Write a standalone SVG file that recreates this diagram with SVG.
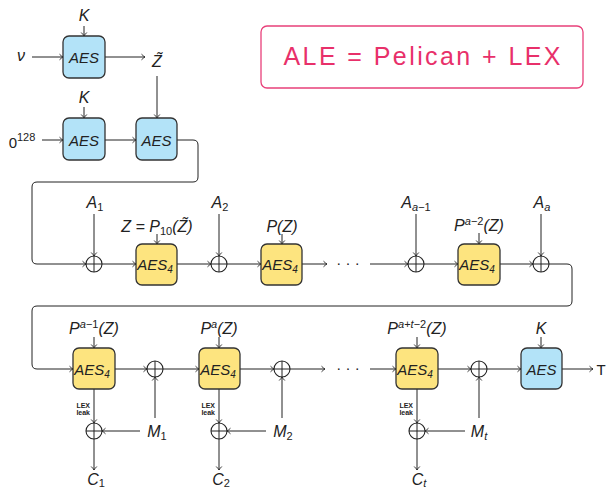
<svg xmlns="http://www.w3.org/2000/svg" width="607" height="489" viewBox="0 0 607 489">
<defs>
<marker id="ar" markerUnits="userSpaceOnUse" markerWidth="10" markerHeight="10" viewBox="-6 -5 8 10" refX="0" refY="0" orient="auto">
<path d="M-3.5,-2.8 Q-1.2,-0.6 0,0 Q-1.2,0.6 -3.5,2.8" fill="none" stroke="#222" stroke-width="0.9"/>
</marker>
</defs>
<style>
.blue{fill:#b3e3f8;stroke:#333;stroke-width:1.3}
.yel{fill:#fde47f;stroke:#333;stroke-width:1.3}
.m{font-family:"Liberation Sans",Arial,sans-serif;font-style:italic;font-size:15px;fill:#222;text-anchor:middle}
.l{font-family:"Liberation Sans",Arial,sans-serif;font-style:italic;font-size:16px;fill:#222;text-anchor:middle}
.r{font-family:"Liberation Sans",Arial,sans-serif;font-size:15px;fill:#222;text-anchor:middle}
.s{font-size:11px}
.leak{font-family:"Liberation Sans",Arial,sans-serif;font-weight:bold;font-size:7px;fill:#222;text-anchor:end}
.c{fill:none;stroke:#222;stroke-width:1}
.a{fill:none;stroke:#222;stroke-width:1;marker-end:url(#ar)}
.x{fill:#fff;stroke:#222;stroke-width:1.1}
.dots{font-family:"Liberation Sans",Arial,sans-serif;font-size:15px;fill:#222;text-anchor:middle}
</style>
<rect width="607" height="489" fill="#fff"/>

<g id="title">
<rect x="261" y="26" width="322" height="62" rx="6" fill="#fff" stroke="#e8407a" stroke-width="1.3"/>
<text x="422" y="65" font-family="Liberation Sans,Arial,sans-serif" font-size="25" fill="#e8306a" text-anchor="middle" textLength="277" lengthAdjust="spacing">ALE = Pelican + LEX</text>
</g>

<g id="connectors">
<line class="a" x1="84" y1="26" x2="84" y2="36"/>
<line class="a" x1="32" y1="57" x2="63" y2="57"/>
<line class="a" x1="105" y1="57" x2="145" y2="57"/>
<line class="a" x1="157" y1="76" x2="157" y2="118"/>
<line class="a" x1="84" y1="107" x2="84" y2="118"/>
<line class="a" x1="42" y1="140" x2="63" y2="140"/>
<line class="a" x1="105" y1="140" x2="136" y2="140"/>
<path class="a" d="M177,140 H193 Q198,140 198,145 V177 Q198,182 193,182 H37 Q32,182 32,187 V259 Q32,264 37,264 H86"/>
<line class="a" x1="94" y1="214" x2="94" y2="256"/>
<line class="a" x1="102" y1="264" x2="136" y2="264"/>
<line class="a" x1="157" y1="234" x2="157" y2="244"/>
<line class="a" x1="177" y1="264" x2="211" y2="264"/>
<line class="a" x1="219" y1="214" x2="219" y2="256"/>
<line class="a" x1="227" y1="264" x2="261" y2="264"/>
<line class="a" x1="282" y1="234" x2="282" y2="244"/>
<line class="a" x1="302" y1="264" x2="327" y2="264"/>
<line class="a" x1="370" y1="264" x2="408" y2="264"/>
<line class="a" x1="416" y1="214" x2="416" y2="256"/>
<line class="a" x1="424" y1="264" x2="458" y2="264"/>
<line class="a" x1="479" y1="233" x2="479" y2="244"/>
<line class="a" x1="500" y1="264" x2="533" y2="264"/>
<line class="a" x1="541" y1="214" x2="541" y2="256"/>
<path class="a" d="M549,264 H567 Q572,264 572,269 V301 Q572,306 567,306 H37 Q32,306 32,311 V364 Q32,369 37,369 H73"/>
<line class="a" x1="94" y1="337" x2="94" y2="348"/>
<line class="a" x1="115" y1="369" x2="147" y2="369"/>
<line class="a" x1="155" y1="418" x2="155" y2="377"/>
<line class="a" x1="163" y1="369" x2="199" y2="369"/>
<line class="a" x1="219" y1="337" x2="219" y2="348"/>
<line class="a" x1="240" y1="369" x2="274" y2="369"/>
<line class="a" x1="282" y1="418" x2="282" y2="377"/>
<line class="a" x1="290" y1="369" x2="325" y2="369"/>
<line class="a" x1="370" y1="369" x2="396" y2="369"/>
<line class="a" x1="417" y1="337" x2="417" y2="348"/>
<line class="a" x1="438" y1="369" x2="471" y2="369"/>
<line class="a" x1="479" y1="418" x2="479" y2="377"/>
<line class="a" x1="487" y1="369" x2="521" y2="369"/>
<line class="a" x1="541" y1="337" x2="541" y2="348"/>
<line class="a" x1="562" y1="369" x2="593" y2="369"/>
<line class="a" x1="94" y1="389" x2="94" y2="423"/>
<line class="a" x1="140" y1="431" x2="102" y2="431"/>
<line class="a" x1="94" y1="439" x2="94" y2="470"/>
<line class="a" x1="219" y1="389" x2="219" y2="423"/>
<line class="a" x1="266" y1="431" x2="227" y2="431"/>
<line class="a" x1="219" y1="439" x2="219" y2="470"/>
<line class="a" x1="417" y1="389" x2="417" y2="423"/>
<line class="a" x1="465" y1="431" x2="425" y2="431"/>
<line class="a" x1="417" y1="439" x2="417" y2="470"/>
</g>

<g id="aes1"><rect class="blue" x="63" y="36" width="42" height="42" rx="6"/><text class="m" x="84" y="63">AES</text></g>
<g id="aes2"><rect class="blue" x="63" y="118" width="42" height="42" rx="6"/><text class="m" x="84" y="146">AES</text></g>
<g id="aes3"><rect class="blue" x="136" y="118" width="41" height="42" rx="6"/><text class="m" x="156.5" y="146">AES</text></g>
<g id="aesT"><rect class="blue" x="521" y="348" width="41" height="41" rx="6"/><text class="m" x="541.5" y="375">AES</text></g>

<g id="r2b1"><rect class="yel" x="136" y="244" width="41" height="41" rx="6"/><text class="m" x="155" y="270">AES<tspan font-size="10" dy="3">4</tspan></text></g>
<g id="r2b2"><rect class="yel" x="261" y="244" width="41" height="41" rx="6"/><text class="m" x="280" y="270">AES<tspan font-size="10" dy="3">4</tspan></text></g>
<g id="r2b3"><rect class="yel" x="458" y="244" width="42" height="41" rx="6"/><text class="m" x="477" y="270">AES<tspan font-size="10" dy="3">4</tspan></text></g>
<g id="r3b1"><rect class="yel" x="73" y="348" width="42" height="41" rx="6"/><text class="m" x="92" y="375">AES<tspan font-size="10" dy="3">4</tspan></text></g>
<g id="r3b2"><rect class="yel" x="199" y="348" width="41" height="41" rx="6"/><text class="m" x="218" y="375">AES<tspan font-size="10" dy="3">4</tspan></text></g>
<g id="r3b3"><rect class="yel" x="396" y="348" width="42" height="41" rx="6"/><text class="m" x="415" y="375">AES<tspan font-size="10" dy="3">4</tspan></text></g>

<g id="xors">
<g id="x1"><circle class="x" cx="94" cy="264" r="8"/><path class="c" d="M86,264H102M94,256V272"/></g>
<g id="x2"><circle class="x" cx="219" cy="264" r="8"/><path class="c" d="M211,264H227M219,256V272"/></g>
<g id="x3"><circle class="x" cx="416" cy="264" r="8"/><path class="c" d="M408,264H424M416,256V272"/></g>
<g id="x4"><circle class="x" cx="541" cy="264" r="8"/><path class="c" d="M533,264H549M541,256V272"/></g>
<g id="x5"><circle class="x" cx="155" cy="369" r="8"/><path class="c" d="M147,369H163M155,361V377"/></g>
<g id="x6"><circle class="x" cx="282" cy="369" r="8"/><path class="c" d="M274,369H290M282,361V377"/></g>
<g id="x7"><circle class="x" cx="479" cy="369" r="8"/><path class="c" d="M471,369H487M479,361V377"/></g>
<g id="x8"><circle class="x" cx="94" cy="431" r="8"/><path class="c" d="M86,431H102M94,423V439"/></g>
<g id="x9"><circle class="x" cx="219" cy="431" r="8"/><path class="c" d="M211,431H227M219,423V439"/></g>
<g id="x10"><circle class="x" cx="417" cy="431" r="8"/><path class="c" d="M409,431H425M417,423V439"/></g>
</g>

<g id="labels">
<text class="l" x="84" y="21">K</text>
<text class="l" x="21" y="61">ν</text>
<text class="l" x="157" y="67">Z̃</text>
<text class="l" x="84" y="103">K</text>
<text class="r" x="22" y="148" font-size="16">0<tspan class="s" dy="-7">128</tspan></text>
<text class="l" x="95" y="208">A<tspan class="s" dy="3" font-style="normal">1</tspan></text>
<text class="l" x="157" y="232">Z = P<tspan class="s" dy="3" font-style="normal">10</tspan><tspan dy="-3">(Z̃)</tspan></text>
<text class="l" x="220" y="208">A<tspan class="s" dy="3" font-style="normal">2</tspan></text>
<text class="l" x="282" y="232">P(Z)</text>
<text class="dots" x="348" y="268">· · ·</text>
<text class="l" x="416" y="208">A<tspan class="s" dy="3">a<tspan font-style="normal">−1</tspan></tspan></text>
<text class="l" x="479" y="231">P<tspan class="s" dy="-6">a<tspan font-style="normal">−2</tspan></tspan><tspan dy="6">(Z)</tspan></text>
<text class="l" x="542" y="208">A<tspan class="s" dy="3">a</tspan></text>
<text class="l" x="94" y="334">P<tspan class="s" dy="-6">a<tspan font-style="normal">−1</tspan></tspan><tspan dy="6">(Z)</tspan></text>
<text class="l" x="219" y="334">P<tspan class="s" dy="-6">a</tspan><tspan dy="6">(Z)</tspan></text>
<text class="dots" x="348" y="373">· · ·</text>
<text class="l" x="417" y="334">P<tspan class="s" dy="-6">a<tspan font-style="normal">+</tspan>t<tspan font-style="normal">−2</tspan></tspan><tspan dy="6">(Z)</tspan></text>
<text class="l" x="541" y="334">K</text>
<text class="r" x="601" y="375" font-size="16">T</text>
<text class="leak" x="90" y="408">LEX</text>
<text class="leak" x="90" y="414.5">leak</text>
<text class="leak" x="215" y="408">LEX</text>
<text class="leak" x="215" y="414.5">leak</text>
<text class="leak" x="413" y="408">LEX</text>
<text class="leak" x="413" y="414.5">leak</text>
<text class="l" x="157" y="437">M<tspan class="s" dy="3" font-style="normal">1</tspan></text>
<text class="l" x="283" y="437">M<tspan class="s" dy="3" font-style="normal">2</tspan></text>
<text class="l" x="479" y="437">M<tspan class="s" dy="3">t</tspan></text>
<text class="l" x="96" y="485">C<tspan class="s" dy="2" font-style="normal">1</tspan></text>
<text class="l" x="221" y="485">C<tspan class="s" dy="2" font-style="normal">2</tspan></text>
<text class="l" x="419" y="485">C<tspan class="s" dy="2">t</tspan></text>
</g>
</svg>
